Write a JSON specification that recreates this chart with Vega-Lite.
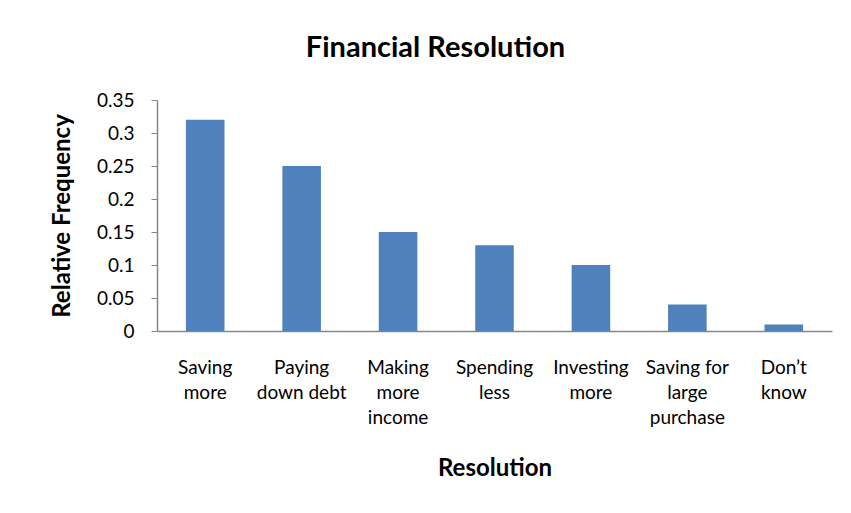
{
  "$schema": "https://vega.github.io/schema/vega-lite/v6.json",
  "width": 675,
  "height": 231,
  "autosize": {"type": "none"},
  "padding": {"left": 157, "top": 100, "right": 19, "bottom": 182},
  "background": "white",
  "config": {
    "view": {"stroke": null},
    "font": "Lato",
    "axis": {"labelFont": "Lato", "titleFont": "Lato", "labelColor": "#000000", "titleColor": "#000000", "domainColor": "#868686", "tickColor": "#868686", "grid": false}
  },
  "title": {
    "text": "Financial Resolution",
    "font": "Lato",
    "fontSize": 29,
    "fontWeight": "bold",
    "color": "#000000",
    "anchor": "middle",
    "dx": -59,
    "offset": 28
  },
  "data": {
    "values": [
      {"resolution": "Saving\nmore", "freq": 0.32},
      {"resolution": "Paying\ndown debt", "freq": 0.25},
      {"resolution": "Making\nmore\nincome", "freq": 0.15},
      {"resolution": "Spending\nless", "freq": 0.13},
      {"resolution": "Investing\nmore", "freq": 0.10},
      {"resolution": "Saving for\nlarge\npurchase", "freq": 0.04},
      {"resolution": "Don’t\nknow", "freq": 0.01}
    ]
  },
  "mark": {"type": "bar", "color": "#4F81BD"},
  "encoding": {
    "x": {
      "field": "resolution",
      "type": "nominal",
      "sort": null,
      "scale": {"paddingInner": 0.6, "paddingOuter": 0.3},
      "axis": {
        "title": "Resolution",
        "titleFontSize": 24,
        "titleFontWeight": "bold",
        "titleY": 137,
        "titleBaseline": "middle",
        "labelAngle": 0,
        "labelFontSize": 19,
        "labelLineHeight": 25,
        "labelBaseline": "top",
        "labelPadding": 27,
        "labelExpr": "split(datum.label, '\\n')",
        "ticks": false,
        "domainWidth": 1.5
      }
    },
    "y": {
      "field": "freq",
      "type": "quantitative",
      "scale": {"domain": [0, 0.35], "nice": false},
      "axis": {
        "title": "Relative Frequency",
        "titleFontSize": 24,
        "titleFontWeight": "bold",
        "titleX": -95,
        "titleY": 115.5,
        "titleBaseline": "middle",
        "titleAngle": 270,
        "values": [0, 0.05, 0.1, 0.15, 0.2, 0.25, 0.3, 0.35],
        "labelExpr": "datum.value == 0 ? '0' : format(datum.value, '.2~f')",
        "labelFontSize": 19,
        "labelPadding": 17,
        "tickSize": 6,
        "domainWidth": 1.5
      }
    }
  }
}
